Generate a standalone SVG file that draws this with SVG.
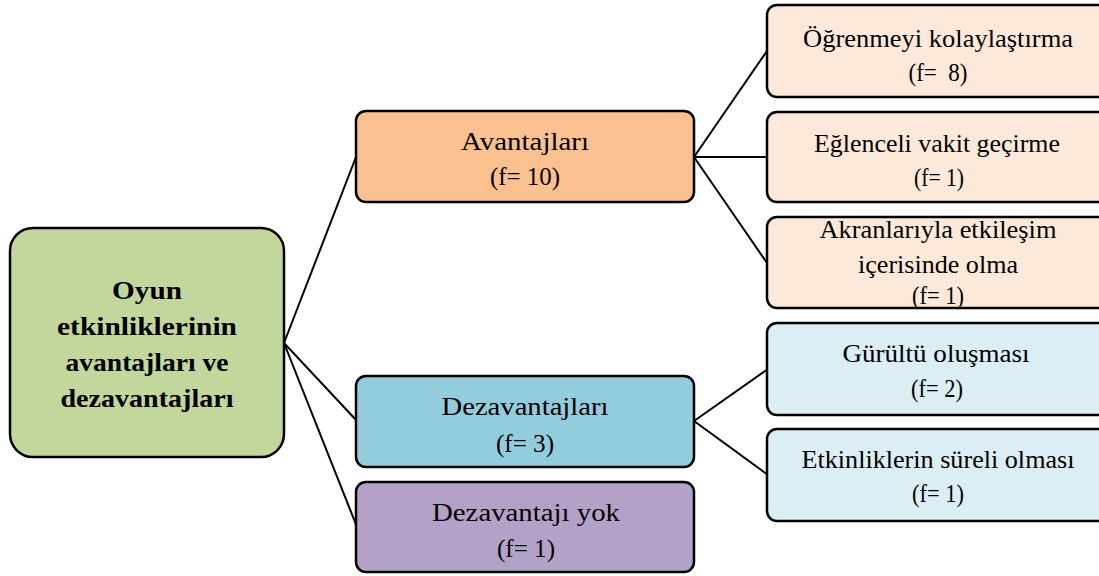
<svg xmlns="http://www.w3.org/2000/svg" width="1099" height="576" viewBox="0 0 1099 576">
<style>
.box{stroke:#000;stroke-width:2.5}
.root{fill:#C3D69B}
.adv{fill:#FAC090}
.advs{fill:#FDE9D9}
.dis{fill:#93CDDD}
.diss{fill:#DBEEF4}
.none{fill:#B3A2C7}
text{font-family:"Liberation Serif","Times New Roman",serif;font-size:26px;fill:#000;text-anchor:middle}
.b{font-weight:bold;font-size:25px}
.conn line{stroke:#000;stroke-width:2}
</style>
<rect width="1099" height="576" fill="#fff"/>
<g class="conn" id="connectors">
<line x1="284" y1="343" x2="356" y2="157"/>
<line x1="284" y1="343" x2="357" y2="421"/>
<line x1="284" y1="343" x2="357" y2="527"/>
<line x1="694" y1="157" x2="767" y2="51"/>
<line x1="694" y1="157" x2="767" y2="157"/>
<line x1="694" y1="157" x2="767" y2="263"/>
<line x1="694" y1="421" x2="768" y2="369"/>
<line x1="694" y1="421" x2="768" y2="475"/>
</g>
<g id="root">
<rect class="box root" x="10" y="228" width="274" height="229" rx="23"/>
<text class="b" x="147" y="299" textLength="70" lengthAdjust="spacingAndGlyphs">Oyun</text>
<text class="b" x="147" y="335" textLength="180" lengthAdjust="spacingAndGlyphs">etkinliklerinin</text>
<text class="b" x="147" y="371" textLength="163" lengthAdjust="spacingAndGlyphs">avantajları ve</text>
<text class="b" x="147" y="407" textLength="173" lengthAdjust="spacingAndGlyphs">dezavantajları</text>
</g>
<g id="avantajlari">
<rect class="box adv" x="356" y="111" width="338" height="91" rx="10"/>
<text x="525" y="150" textLength="128" lengthAdjust="spacingAndGlyphs">Avantajları</text>
<text x="525" y="185" textLength="70" lengthAdjust="spacingAndGlyphs">(f= 10)</text>
</g>
<g id="dezavantajlari">
<rect class="box dis" x="356" y="376" width="338" height="91" rx="10"/>
<text x="525" y="415" textLength="167" lengthAdjust="spacingAndGlyphs">Dezavantajları</text>
<text x="525" y="452" textLength="58" lengthAdjust="spacingAndGlyphs">(f= 3)</text>
</g>
<g id="dezavantaji-yok">
<rect class="box none" x="356" y="482" width="338" height="90" rx="10"/>
<text x="526" y="521" textLength="188" lengthAdjust="spacingAndGlyphs">Dezavantajı yok</text>
<text x="526" y="557" textLength="58" lengthAdjust="spacingAndGlyphs">(f= 1)</text>
</g>
<g id="ogrenme">
<rect class="box advs" x="767" y="5" width="342" height="92" rx="10"/>
<text x="938" y="47" textLength="270" lengthAdjust="spacingAndGlyphs">Öğrenmeyi kolaylaştırma</text>
<text x="938" y="81" textLength="59" lengthAdjust="spacingAndGlyphs" xml:space="preserve">(f=  8)</text>
</g>
<g id="eglenceli">
<rect class="box advs" x="767" y="112" width="342" height="90" rx="10"/>
<text x="937" y="152" textLength="246" lengthAdjust="spacingAndGlyphs">Eğlenceli vakit geçirme</text>
<text x="939" y="186" textLength="50" lengthAdjust="spacingAndGlyphs">(f= 1)</text>
</g>
<g id="akran">
<rect class="box advs" x="767" y="217" width="342" height="91" rx="10"/>
<text x="938" y="238" textLength="237" lengthAdjust="spacingAndGlyphs">Akranlarıyla etkileşim</text>
<text x="938" y="273" textLength="160" lengthAdjust="spacingAndGlyphs">içerisinde olma</text>
<text x="938" y="304" textLength="52" lengthAdjust="spacingAndGlyphs">(f= 1)</text>
</g>
<g id="gurultu">
<rect class="box diss" x="767" y="323" width="342" height="92" rx="10"/>
<text x="936" y="362" textLength="187" lengthAdjust="spacingAndGlyphs">Gürültü oluşması</text>
<text x="937" y="397" textLength="52" lengthAdjust="spacingAndGlyphs">(f= 2)</text>
</g>
<g id="sureli">
<rect class="box diss" x="767" y="429" width="342" height="92" rx="10"/>
<text x="938" y="468" textLength="273" lengthAdjust="spacingAndGlyphs">Etkinliklerin süreli olması</text>
<text x="938" y="502" textLength="52" lengthAdjust="spacingAndGlyphs">(f= 1)</text>
</g>
</svg>
